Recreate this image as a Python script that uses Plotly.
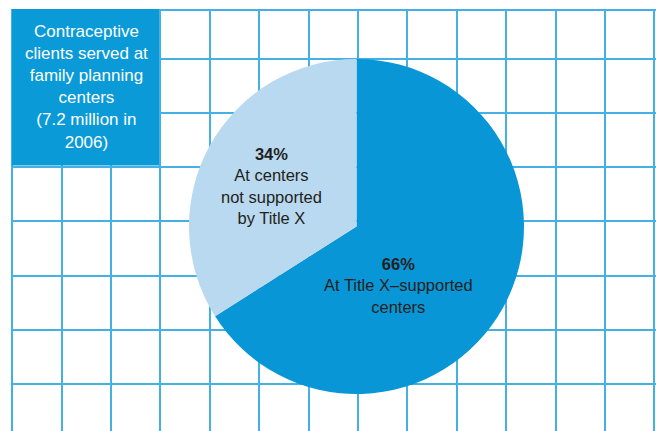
import plotly.graph_objects as go

# ---- data ----
segments = ["At Title X\u2013supported centers", "At centers not supported by Title X"]
shares = [66, 34]
segment_text = [
    "<b>66%</b><br>At Title X\u2013supported<br>centers",
    "<b>34%</b><br>At centers<br>not supported<br>by Title X",
]
title_lines = ["Contraceptive", "clients served at", "family planning", "centers",
               "(7.2 million in", "2006)"]

W, H = 656, 431
grid_x = [12, 62, 111, 160, 210, 259, 309, 358, 407, 457, 506, 556, 605, 654]
grid_y = [10, 59, 113, 167, 221, 276, 330, 384]

DARK = "#0896d6"
LIGHT = "#b9d9f0"
FONT = "Liberation Sans, Arial, sans-serif"
TXT = "#231f20"

cx, cy, r = 356.5, 226.5, 167.5

fig = go.Figure()
fig.add_trace(go.Pie(
    labels=segments, values=shares, sort=False, direction="clockwise", rotation=0,
    marker=dict(colors=[DARK, LIGHT], line=dict(width=0)),
    textinfo="none", hoverinfo="label+percent", showlegend=False,
    domain=dict(x=[(cx - r) / W, (cx + r) / W],
                y=[(H - (cy + r)) / H, (H - (cy - r)) / H]),
))

axis_common = dict(showticklabels=False, ticks="", zeroline=False, showline=False,
                   showgrid=True, gridcolor="#45b0e4", gridwidth=2, fixedrange=True)
fig.update_xaxes(range=[0, W], tickvals=grid_x, **axis_common)
fig.update_yaxes(range=[H, 0], tickvals=grid_y, **axis_common)

# white masks outside the grid area, then the title box
fig.add_shape(type="rect", xref="x", yref="y", x0=0, x1=11, y0=0, y1=H,
              fillcolor="white", line=dict(width=0), layer="above")
fig.add_shape(type="rect", xref="x", yref="y", x0=0, x1=W, y0=0, y1=9,
              fillcolor="white", line=dict(width=0), layer="above")
fig.add_shape(type="rect", xref="x", yref="y", x0=12, x1=159, y0=9, y1=165.5,
              fillcolor="#0a9ad8", line=dict(width=0), layer="above")

fig.add_annotation(x=86.5, y=86.5, xref="x", yref="y", text="<br>".join(title_lines),
                   showarrow=False, align="center", xanchor="center", yanchor="middle",
                   font=dict(family=FONT, size=17, color="white"))
fig.add_annotation(x=398.5, y=285, xref="x", yref="y", text=segment_text[0],
                   showarrow=False, align="center", xanchor="center", yanchor="middle",
                   font=dict(family=FONT, size=16.5, color=TXT))
fig.add_annotation(x=271, y=186, xref="x", yref="y", text=segment_text[1],
                   showarrow=False, align="center", xanchor="center", yanchor="middle",
                   font=dict(family=FONT, size=16.5, color=TXT))

fig.update_layout(width=W, height=H, margin=dict(l=0, r=0, t=0, b=0, pad=0),
                  paper_bgcolor="white", plot_bgcolor="white")

fig.write_html("out.html", config={"displayModeBar": False},
               post_script="document.body.style.margin='0';document.body.style.overflow='hidden';")
